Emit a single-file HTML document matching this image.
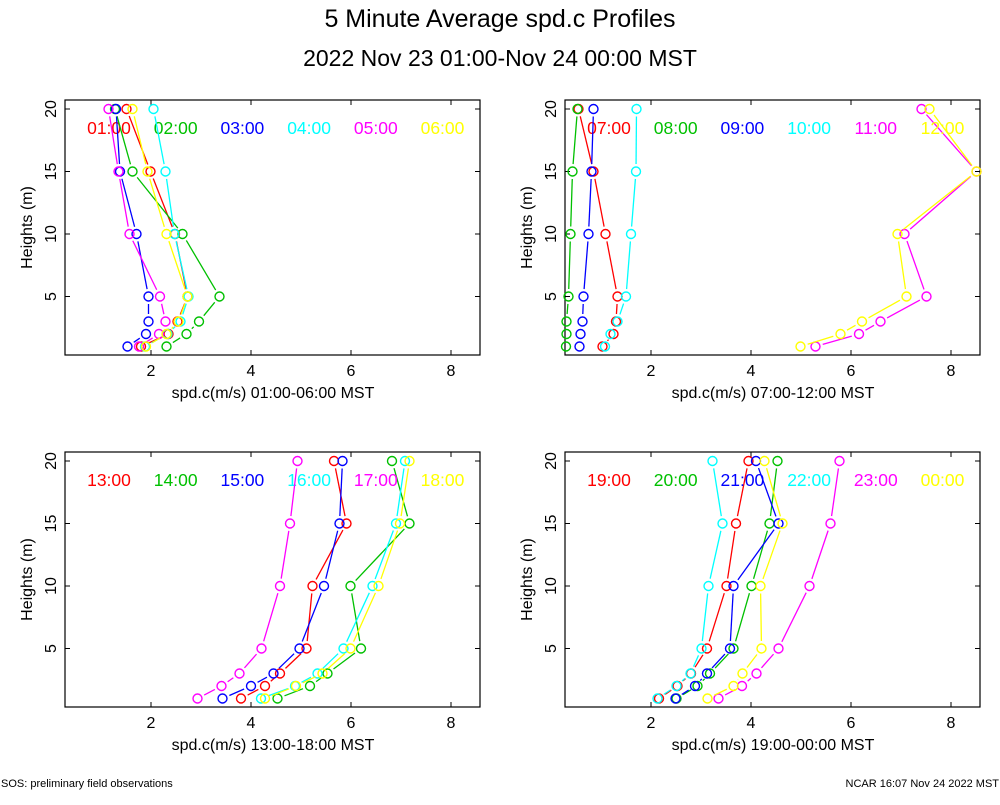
<!DOCTYPE html>
<html><head><meta charset="utf-8"><style>
body{margin:0;background:#fff;width:1000px;height:800px;overflow:hidden}
svg text{font-family:"Liberation Sans",sans-serif}
</style></head><body>
<svg id="chart" width="1000" height="800" xmlns="http://www.w3.org/2000/svg">
<text x="500" y="27" font-size="25" text-anchor="middle">5 Minute Average spd.c Profiles</text>
<text x="500" y="66" font-size="23" text-anchor="middle">2022 Nov 23 01:00-Nov 24 00:00 MST</text>
<text x="1" y="787" font-size="11">SOS: preliminary field observations</text>
<text x="999" y="787" font-size="11" text-anchor="end">NCAR 16:07 Nov 24 2022 MST</text>
</svg>
<script>
const heights = [1,2,3,5,10,15,20];
const colors = ["#ff0000","#00c000","#0000ff","#00ffff","#ff00ff","#ffff00"];
const xTicks = [2,4,6,8];
const yTicks = [5,10,15,20];
const labels1 = ["01:00","02:00","03:00","04:00","05:00","06:00"];
const labels2 = ["07:00","08:00","09:00","10:00","11:00","12:00"];
const labels3 = ["13:00","14:00","15:00","16:00","17:00","18:00"];
const labels4 = ["19:00","20:00","21:00","22:00","23:00","00:00"];
const titles = ["spd.c(m/s) 01:00-06:00 MST","spd.c(m/s) 07:00-12:00 MST","spd.c(m/s) 13:00-18:00 MST","spd.c(m/s) 19:00-00:00 MST"];
const p1 = [
 [1.8,2.35,2.53,2.73,2.48,1.99,1.51],
 [2.31,2.71,2.96,3.37,2.63,1.63,1.28],
 [1.53,1.9,1.95,1.95,1.71,1.38,1.30],
 [1.88,2.33,2.59,2.75,2.47,2.29,2.05],
 [1.76,2.16,2.29,2.18,1.57,1.35,1.15],
 [1.9,2.31,2.55,2.73,2.31,1.93,1.63]];
const p2 = [
 [1.03,1.25,1.3,1.33,1.09,0.85,0.55],
 [0.3,0.31,0.31,0.35,0.39,0.43,0.53],
 [0.57,0.59,0.63,0.65,0.75,0.81,0.85],
 [1.08,1.19,1.33,1.5,1.6,1.7,1.71],
 [5.29,6.16,6.59,7.51,7.07,8.51,7.41],
 [4.99,5.79,6.22,7.11,6.93,8.51,7.57]];
const p3 = [
 [3.8,4.28,4.58,5.11,5.23,5.91,5.66],
 [4.53,5.18,5.53,6.2,5.99,7.17,6.82],
 [3.43,4.0,4.45,4.97,5.46,5.77,5.83],
 [4.2,4.88,5.33,5.85,6.43,6.9,7.08],
 [2.93,3.41,3.77,4.21,4.58,4.78,4.93],
 [4.28,4.9,5.43,5.99,6.55,6.98,7.17]];
const p4 = [
 [2.16,2.53,2.8,3.12,3.51,3.7,3.95],
 [2.51,2.93,3.18,3.65,4.01,4.37,4.53],
 [2.49,2.88,3.12,3.58,3.65,4.55,4.1],
 [2.13,2.51,2.79,3.01,3.15,3.43,3.23],
 [3.35,3.82,4.11,4.55,5.17,5.59,5.77],
 [3.13,3.65,3.83,4.21,4.19,4.63,4.27]];
const panels=[{d:p1,l:labels1,fx:65,fy:100},{d:p2,l:labels2,fx:565,fy:100},{d:p3,l:labels3,fx:65,fy:452},{d:p4,l:labels4,fx:565,fy:452}];
const NS="http://www.w3.org/2000/svg";
const svg=document.getElementById('chart');
function mk(t,a,p){const e=document.createElementNS(NS,t);for(const k in a)e.setAttribute(k,a[k]);(p||svg).appendChild(e);return e;}
panels.forEach((P,pi)=>{
 const g=mk('g',{});
 
 
 const W=415,H=255;
 const x0=P.fx-14;
 const sx=v=>x0+v*50;
 const yb=P.fy+259;
 const sy=v=>yb-v*12.5;
 const fr=mk('rect',{x:P.fx,y:P.fy,width:W,height:H,fill:'none',stroke:'#000','stroke-width':1.2},g);
 
 
 xTicks.forEach(t=>{const X=sx(t);
  mk('line',{x1:X,y1:P.fy+H,x2:X,y2:P.fy+H-5,stroke:'#000'},g);
  mk('line',{x1:X,y1:P.fy,x2:X,y2:P.fy+5,stroke:'#000'},g);
  const tx=mk('text',{x:X,y:P.fy+H+21,'font-size':16,'text-anchor':'middle'},g);tx.textContent=t;
  
  });
 yTicks.forEach(t=>{const Y=sy(t);
  mk('line',{x1:P.fx,y1:Y,x2:P.fx+5,y2:Y,stroke:'#000'},g);
  mk('line',{x1:P.fx+W,y1:Y,x2:P.fx+W-5,y2:Y,stroke:'#000'},g);
  const tx=mk('text',{x:P.fx-9,y:Y,'font-size':16,'text-anchor':'middle',transform:`rotate(-90 ${P.fx-9} ${Y})`},g);tx.textContent=t;
  
  });
 const yl=mk('text',{x:P.fx-33,y:P.fy+H/2,'font-size':16,'text-anchor':'middle',transform:`rotate(-90 ${P.fx-33} ${P.fy+H/2})`},g);yl.textContent='Heights (m)';
 
 
 const xl=mk('text',{x:P.fx+208,y:P.fy+H+43,'font-size':16,'text-anchor':'middle'},g);xl.textContent=titles[pi];
 
 
 P.d.forEach((ser,si)=>{
  const c=colors[si];
  const sg=mk('g',{},g);
  
  
  const pts=ser.map((v,i)=>[sx(v),sy(heights[i])]);
  for(let i=0;i<pts.length-1;i++){
   const [a,b]=[pts[i],pts[i+1]];const dx=b[0]-a[0],dy=b[1]-a[1],L=Math.hypot(dx,dy);
   if(L>15){const ux=dx/L,uy=dy/L;
    mk('line',{x1:a[0]+ux*7.5,y1:a[1]+uy*7.5,x2:b[0]-ux*7.5,y2:b[1]-uy*7.5,stroke:c,'stroke-width':1.3},sg);}
  }
  pts.forEach(p=>{const ci=mk('circle',{cx:p[0],cy:p[1],r:4.5,fill:'none',stroke:c,'stroke-width':1.4},sg);
   
   });
  const lt=mk('text',{x:P.fx+44+si*66.7,y:P.fy+34,'font-size':17.5,'text-anchor':'middle',fill:c},g);lt.textContent=P.l[si];
  
  
 });
});
</script>
</body></html>
